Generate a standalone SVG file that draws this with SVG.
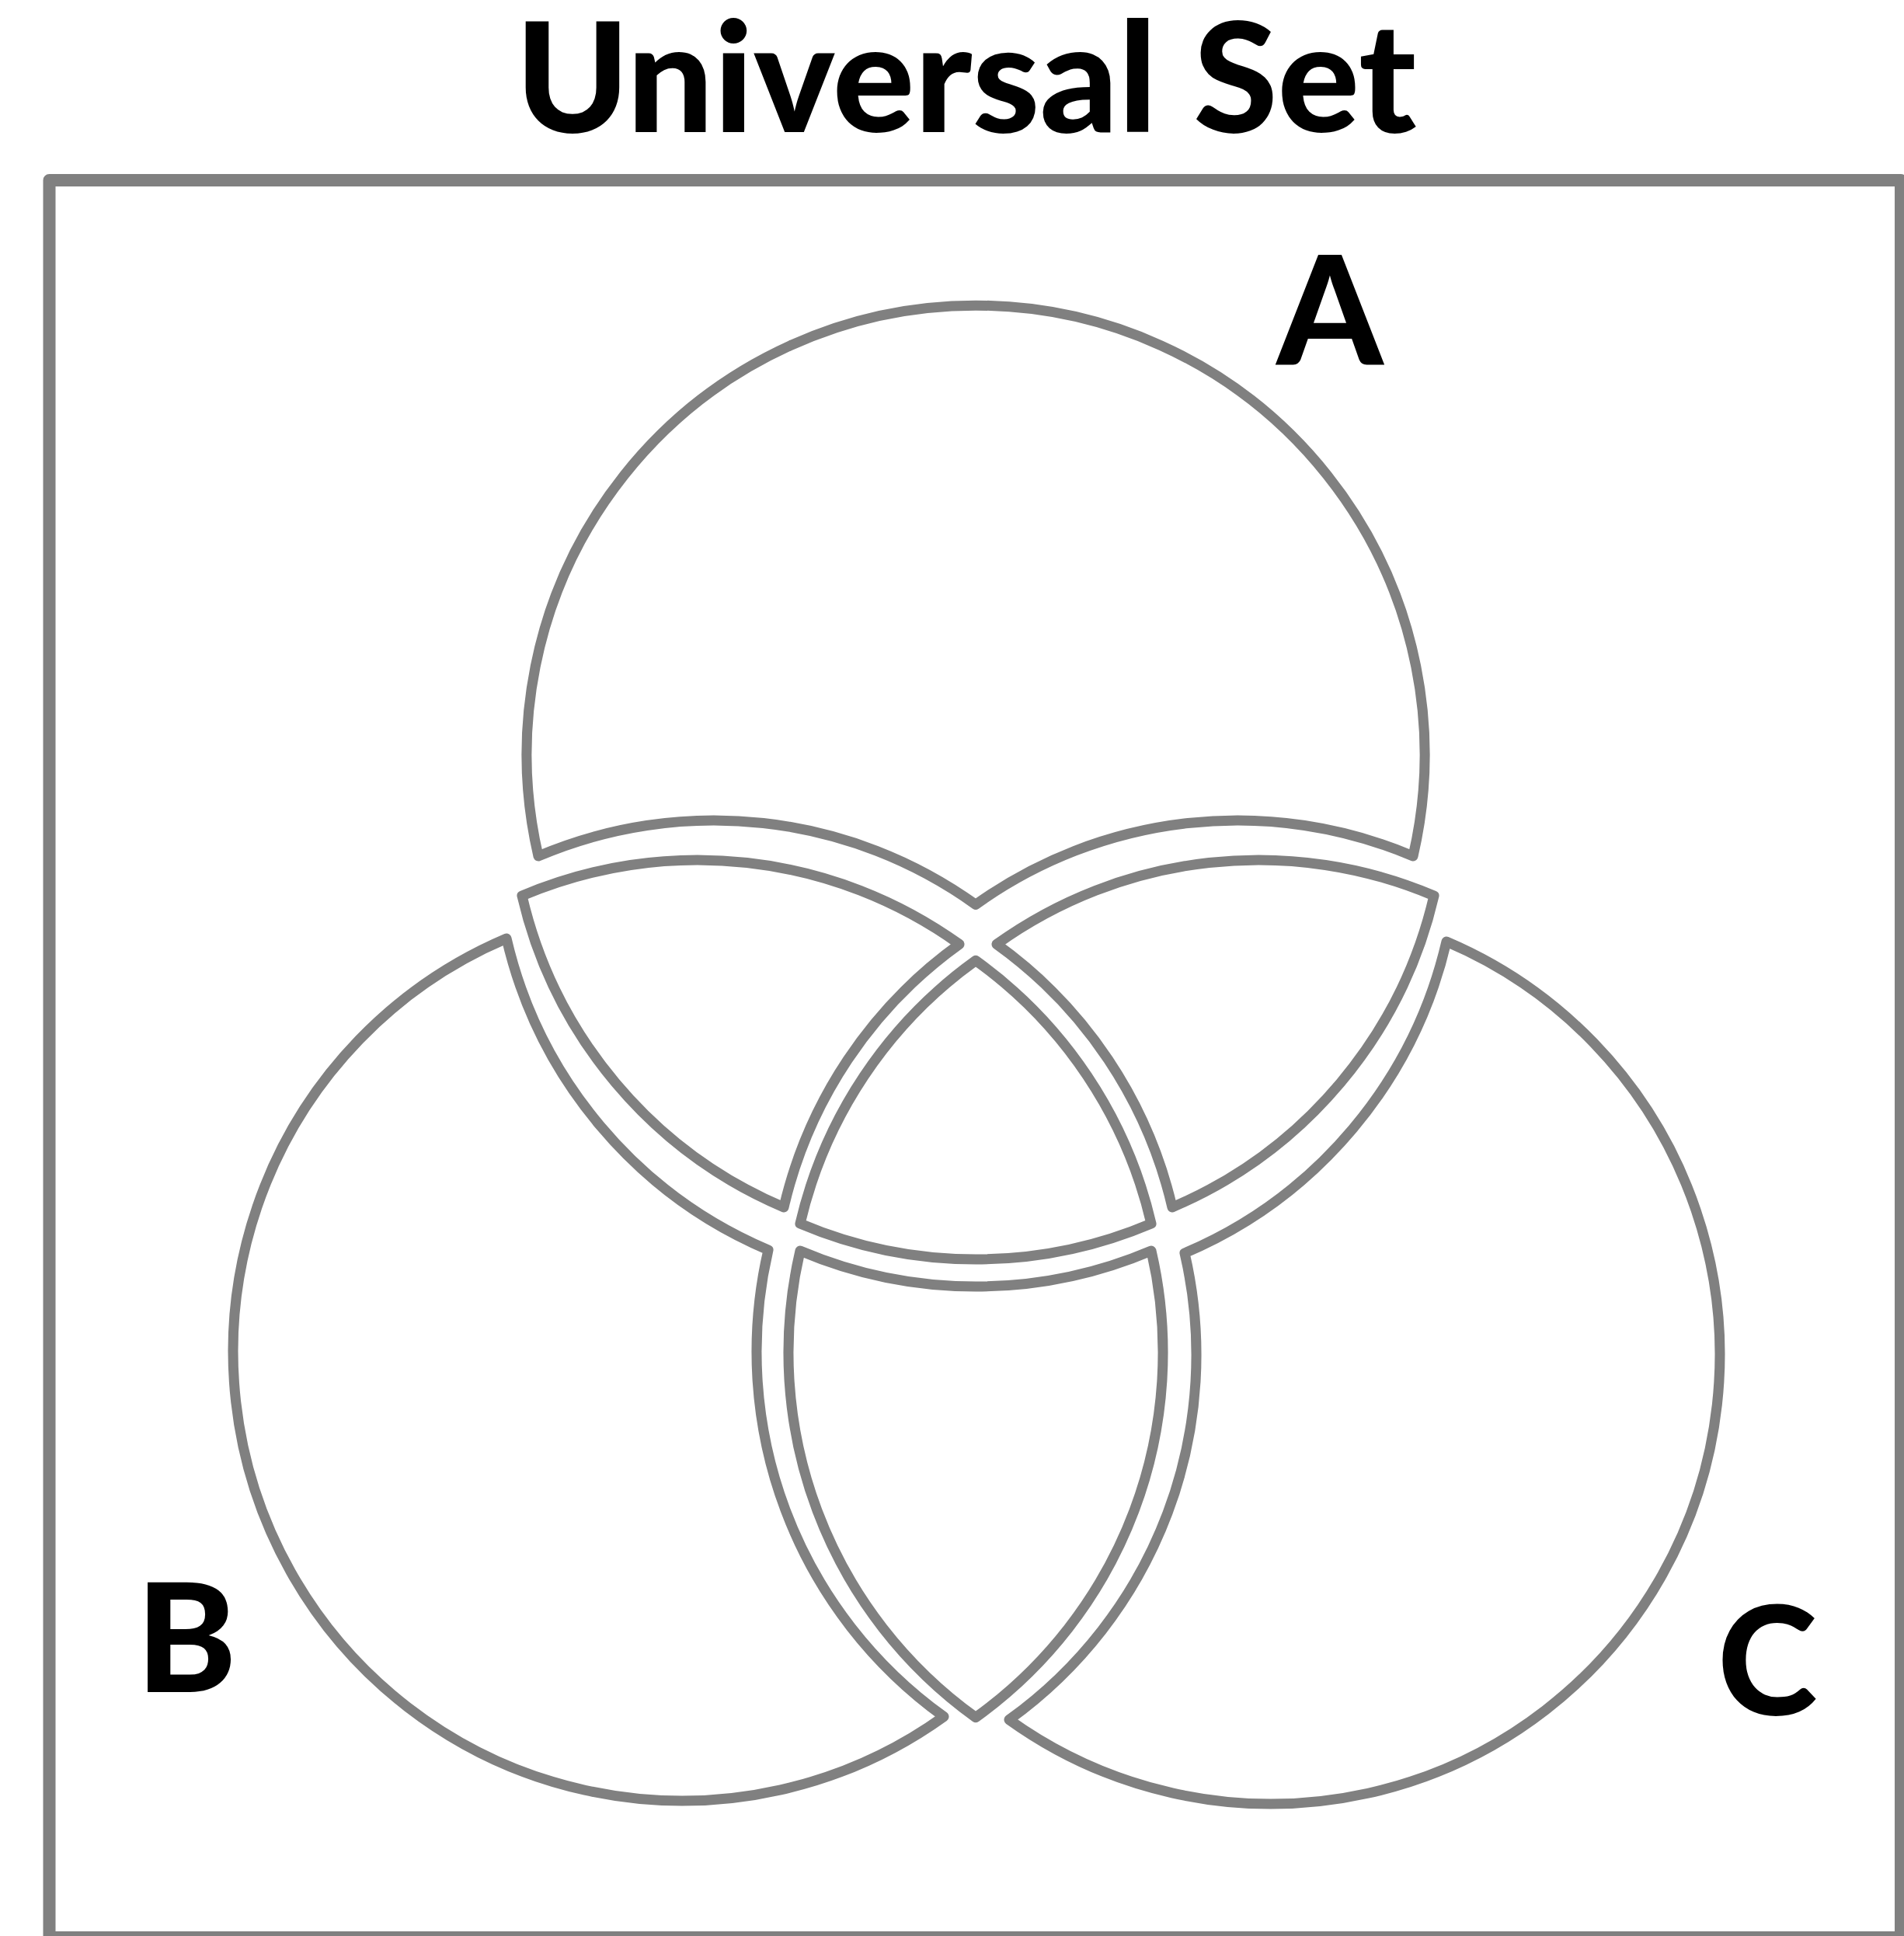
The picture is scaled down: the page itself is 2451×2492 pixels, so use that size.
<svg xmlns="http://www.w3.org/2000/svg" width="2451" height="2492" viewBox="0 0 2451 2492">
<style>
.frame{fill:#fff;stroke:#808080;stroke-width:16;stroke-linejoin:round}
.region{fill:#fff;stroke:#808080;stroke-width:13;stroke-linejoin:round}
.lbl{font-family:Lato,"Liberation Sans",sans-serif;font-weight:900;fill:#000;font-size:195px}
</style>
<rect width="2451" height="2492" fill="#fff"/>
<text class="lbl" x="1243.5" y="170" text-anchor="middle" style="font-size:197px">Universal Set</text>
<rect class="frame" x="63.5" y="232" width="2383.5" height="2262"/>
<g id="regions">
<g id="A-only"><path class="region" d="M 693 1102 A 578 578 0 1 1 1819 1102 A 578 578 0 0 0 1256 1164.4 A 578 578 0 0 0 693 1102 Z"/></g>
<g id="AB"><path class="region" d="M 672 1153 A 578 578 0 0 1 1235 1215.4 A 578 578 0 0 0 1009 1554 A 578 578 0 0 1 672 1153 Z"/></g>
<g id="AC"><path class="region" d="M 1846 1153 A 578 578 0 0 0 1283 1215.4 A 578 578 0 0 1 1509 1554 A 578 578 0 0 0 1846 1153 Z"/></g>
<g id="ABC"><path class="region" d="M 1256 1236.4 A 578 578 0 0 0 1030 1575 A 578 578 0 0 0 1482 1575 A 578 578 0 0 0 1256 1236.4 Z"/></g>
<g id="B-only"><path class="region" d="M 652 1208 A 578 578 0 1 0 1215 2209.6 A 578 578 0 0 1 989 1609 A 578 578 0 0 1 652 1208 Z"/></g>
<g id="C-only"><path class="region" d="M 1862 1212 A 578 578 0 1 1 1299 2213.6 A 578 578 0 0 0 1525 1613 A 578 578 0 0 0 1862 1212 Z"/></g>
<g id="BC"><path class="region" d="M 1030 1610 A 578 578 0 0 0 1482 1610 A 578 578 0 0 1 1256 2210.6 A 578 578 0 0 1 1030 1610 Z"/></g>
</g>
<g id="labels">
<text class="lbl" x="1712" y="469" text-anchor="middle">A</text>
<text class="lbl" x="240" y="2178" text-anchor="middle">B</text>
<text class="lbl" x="2275" y="2207" text-anchor="middle">C</text>
</g>
<g id="connectors"></g>
</svg>
